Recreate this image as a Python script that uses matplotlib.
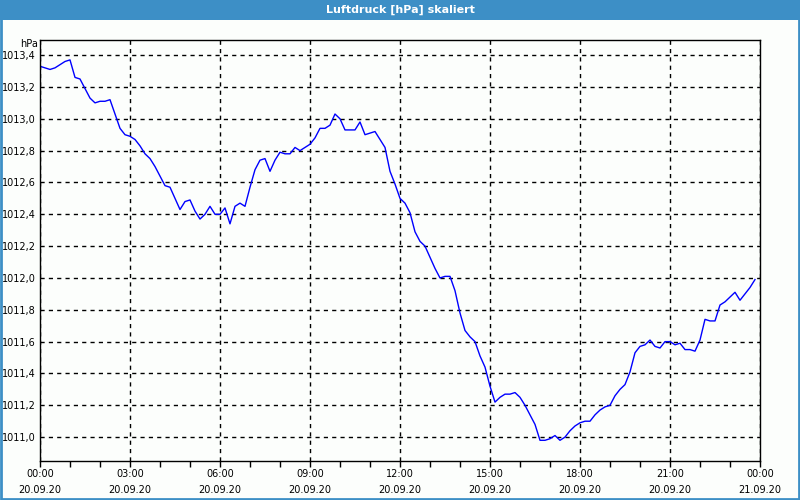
import numpy as np
import matplotlib
matplotlib.use("Agg")
import matplotlib.pyplot as plt
from matplotlib.patches import Rectangle
from matplotlib.ticker import FuncFormatter

# Luftdruck, alle 10 Minuten ab 20.09.20 00:00
minutes = np.arange(0, 1440, 10)
pressure = [
    1013.33, 1013.32, 1013.31, 1013.32, 1013.34, 1013.36, 1013.37, 1013.26, 1013.25, 1013.19,
    1013.13, 1013.10, 1013.11, 1013.11, 1013.12, 1013.03, 1012.94, 1012.90, 1012.89, 1012.87,
    1012.83, 1012.78, 1012.75, 1012.70, 1012.64, 1012.58, 1012.57, 1012.50, 1012.43, 1012.48,
    1012.49, 1012.42, 1012.37, 1012.40, 1012.45, 1012.40, 1012.40, 1012.44, 1012.34, 1012.45,
    1012.47, 1012.45, 1012.57, 1012.68, 1012.74, 1012.75, 1012.67, 1012.74, 1012.79, 1012.78,
    1012.78, 1012.82, 1012.80, 1012.82, 1012.84, 1012.88, 1012.94, 1012.94, 1012.96, 1013.03,
    1013.00, 1012.93, 1012.93, 1012.93, 1012.98, 1012.90, 1012.91, 1012.92, 1012.87, 1012.82,
    1012.67, 1012.59, 1012.50, 1012.47, 1012.41, 1012.29, 1012.23, 1012.20, 1012.13, 1012.06,
    1012.00, 1012.01, 1012.01, 1011.92, 1011.78, 1011.67, 1011.63, 1011.60, 1011.51, 1011.44,
    1011.32, 1011.22, 1011.25, 1011.27, 1011.27, 1011.28, 1011.25, 1011.20, 1011.14, 1011.08,
    1010.98, 1010.98, 1010.99, 1011.01, 1010.98, 1011.00, 1011.04, 1011.07, 1011.09, 1011.10,
    1011.10, 1011.14, 1011.17, 1011.19, 1011.20, 1011.26, 1011.30, 1011.33, 1011.41, 1011.53,
    1011.57, 1011.58, 1011.61, 1011.57, 1011.56, 1011.60, 1011.60, 1011.58, 1011.59, 1011.55,
    1011.55, 1011.54, 1011.61, 1011.74, 1011.73, 1011.73, 1011.83, 1011.85, 1011.88, 1011.91,
    1011.86, 1011.90, 1011.94, 1011.99,
]
tick_hours = [0, 3, 6, 9, 12, 15, 18, 21, 24]
tick_times = ["00:00", "03:00", "06:00", "09:00", "12:00", "15:00", "18:00", "21:00", "00:00"]
tick_dates = ["20.09.20"] * 8 + ["21.09.20"]
y_ticks = [1011.0, 1011.2, 1011.4, 1011.6, 1011.8, 1012.0, 1012.2, 1012.4,
           1012.6, 1012.8, 1013.0, 1013.2, 1013.4]

bg = "#fcfefc"
frame_blue = "#3d8fc6"

fig = plt.figure(figsize=(8, 5), dpi=100, facecolor=bg)

# Fensterrahmen und Titelleiste
fig.patches.append(Rectangle((0, 1 - 20 / 500), 1, 20 / 500, transform=fig.transFigure,
                             facecolor=frame_blue, edgecolor="none", zorder=0))
fig.patches.append(Rectangle((0.5 / 800, 1 / 500), 798 / 800, 498 / 500, transform=fig.transFigure,
                             facecolor="none", edgecolor=frame_blue, linewidth=2, zorder=1))
fig.text(0.5, 1 - 10 / 500, "Luftdruck [hPa] skaliert", color="white", fontsize=8,
         fontweight="bold", ha="center", va="center")

ax = fig.add_axes([40 / 800, 39 / 500, 720 / 800, 421 / 500], facecolor=bg)
ax.plot(minutes / 60, pressure, color="#0000ff", linewidth=1)

ax.set_xlim(0, 24)
ax.set_ylim(1010.85, 1013.495)
ax.set_xticks(tick_hours)
ax.set_xticklabels([f"{t}\n{d}" for t, d in zip(tick_times, tick_dates)],
                   fontsize=7, linespacing=1.75)
ax.set_xticks(range(0, 25), minor=True)
ax.set_yticks(y_ticks)
ax.yaxis.set_major_formatter(FuncFormatter(lambda v, p: f"{v:.1f}".replace(".", ",")))
ax.tick_params(axis="y", length=0, labelsize=7, pad=3)
ax.tick_params(axis="x", which="both", length=4, width=1, direction="out", pad=2)

ax.grid(True, which="major", color="black", linestyle=(0, (3, 3)), linewidth=1)
for s in ax.spines.values():
    s.set_color("black")
    s.set_linewidth(1)

fig.text(38 / 800, 1 - 44 / 500, "hPa", fontsize=7, ha="right", va="center")

fig.savefig("out.png", dpi=100, facecolor=bg)
